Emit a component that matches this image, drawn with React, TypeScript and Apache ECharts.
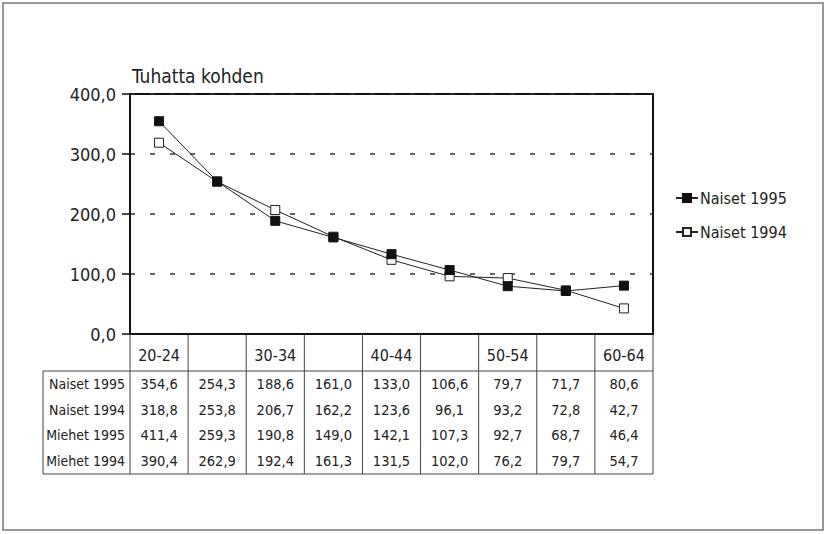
import React, { useEffect, useRef } from "react";
import * as echarts from "echarts";

const categories = ["20-24", "25-29", "30-34", "35-39", "40-44", "45-49", "50-54", "55-59", "60-64"];
const naiset1995 = [354.6, 254.3, 188.6, 161.0, 133.0, 106.6, 79.7, 71.7, 80.6];
const naiset1994 = [318.8, 253.8, 206.7, 162.2, 123.6, 96.1, 93.2, 72.8, 42.7];
const miehet1995 = [411.4, 259.3, 190.8, 149.0, 142.1, 107.3, 92.7, 68.7, 46.4];
const miehet1994 = [390.4, 262.9, 192.4, 161.3, 131.5, 102.0, 76.2, 79.7, 54.7];
const rowLabels = ["Naiset 1995", "Naiset 1994", "Miehet 1995", "Miehet 1994"];
const rowValues = [naiset1995, naiset1994, miehet1995, miehet1994];
const yMin = 0;
const yMax = 400;
const yInterval = 100;
const titleText = "Tuhatta kohden";

const FONT = '"Liberation Sans Narrow", "DejaVu Sans Condensed", "Arial Narrow", sans-serif';
const W = 827;
const H = 534;
const G = { left: 130, top: 94, width: 523, height: 240 };
const TABLE = { left: 43, headerBottom: 371, bottom: 474 };
const fmt = (v: number) => v.toFixed(1).replace(".", ",");

export default function App() {
  const ref = useRef<HTMLDivElement>(null);
  useEffect(() => {
    if (!ref.current) return;
    const chart = echarts.init(ref.current, undefined, { renderer: "svg" });
    const n = categories.length;
    const cw = G.width / n;
    const gBottom = G.top + G.height;
    const right = G.left + G.width;
    const lineColor = "#444";
    const graphics: any[] = [];
    graphics.push({
      type: "rect",
      shape: { x: 3, y: 3, width: W - 7, height: H - 7 },
      style: { fill: "none", stroke: "#777", lineWidth: 1.5 },
      silent: true,
    });
    graphics.push({
      type: "text",
      x: G.left + 2,
      y: G.top - 18,
      style: { text: titleText, font: `19px ${FONT}`, fill: "#222", verticalAlign: "middle" },
    });
    for (let i = 0; i <= n; i++) {
      const x = G.left + i * cw;
      graphics.push({
        type: "line",
        shape: { x1: x, y1: gBottom, x2: x, y2: TABLE.bottom },
        style: { stroke: lineColor, lineWidth: 1 },
      });
    }
    graphics.push({
      type: "line",
      shape: { x1: TABLE.left, y1: TABLE.headerBottom, x2: TABLE.left, y2: TABLE.bottom },
      style: { stroke: lineColor, lineWidth: 1 },
    });
    graphics.push({
      type: "line",
      shape: { x1: TABLE.left, y1: TABLE.headerBottom, x2: right, y2: TABLE.headerBottom },
      style: { stroke: lineColor, lineWidth: 1 },
    });
    graphics.push({
      type: "line",
      shape: { x1: TABLE.left, y1: TABLE.bottom, x2: right, y2: TABLE.bottom },
      style: { stroke: lineColor, lineWidth: 1 },
    });
    const rh = (TABLE.bottom - TABLE.headerBottom) / rowLabels.length;
    rowLabels.forEach((lab, r) => {
      const cy = TABLE.headerBottom + rh * (r + 0.5);
      graphics.push({
        type: "text",
        x: G.left - 5,
        y: cy,
        style: { text: lab, font: `14px ${FONT}`, fill: "#222", align: "right", verticalAlign: "middle" },
      });
      rowValues[r].forEach((v, i) => {
        graphics.push({
          type: "text",
          x: G.left + (i + 0.5) * cw,
          y: cy,
          style: { text: fmt(v), font: `14.5px ${FONT}`, fill: "#222", align: "center", verticalAlign: "middle" },
        });
      });
    });

    chart.setOption({
      animation: false,
      backgroundColor: "#fff",
      grid: {
        left: G.left,
        top: G.top,
        width: G.width,
        height: G.height,
        show: true,
        borderColor: "#111",
        borderWidth: 2,
        backgroundColor: "transparent",
      },
      legend: {
        orient: "vertical",
        left: 670,
        top: 185,
        itemGap: 18,
        itemWidth: 22,
        itemHeight: 10,
        textStyle: { fontFamily: FONT, fontSize: 16, color: "#222", padding: [0, 0, 0, -3] },
        data: ["Naiset 1995", "Naiset 1994"],
      },
      xAxis: {
        type: "category",
        data: categories,
        boundaryGap: true,
        axisLine: { lineStyle: { color: "#111", width: 2 } },
        axisTick: { alignWithLabel: true, interval: 0, length: 5, lineStyle: { color: "#333" } },
        axisLabel: { interval: 1, margin: 13, fontFamily: FONT, fontSize: 16, color: "#222" },
        splitLine: { show: false },
      },
      yAxis: {
        type: "value",
        min: yMin,
        max: yMax,
        interval: yInterval,
        axisLine: { show: true, lineStyle: { color: "#111", width: 2 } },
        axisTick: { show: true, length: 8, lineStyle: { color: "#111", width: 1.5 } },
        axisLabel: {
          margin: 14,
          fontFamily: FONT,
          fontSize: 18,
          color: "#222",
          formatter: (v: number) => fmt(v),
        },
        splitLine: { show: true, lineStyle: { color: "#333", width: 1.5, type: [5, 15] } },
      },
      series: [
        {
          name: "Naiset 1994",
          type: "line",
          data: naiset1994,
          symbol: "rect",
          symbolSize: 9,
          lineStyle: { color: "#222", width: 1 },
          itemStyle: { color: "#fff", borderColor: "#222", borderWidth: 1 },
          z: 3,
        },
        {
          name: "Naiset 1995",
          type: "line",
          data: naiset1995,
          symbol: "rect",
          symbolSize: 9,
          lineStyle: { color: "#222", width: 1 },
          itemStyle: { color: "#111", borderColor: "#111", borderWidth: 1 },
          z: 4,
        },
      ],
      graphic: graphics,
    });
    return () => chart.dispose();
  }, []);
  return (
    <div
      ref={ref}
      style={{ position: "fixed", left: 0, top: 0, width: W, height: H, background: "#fff" }}
    />
  );
}
